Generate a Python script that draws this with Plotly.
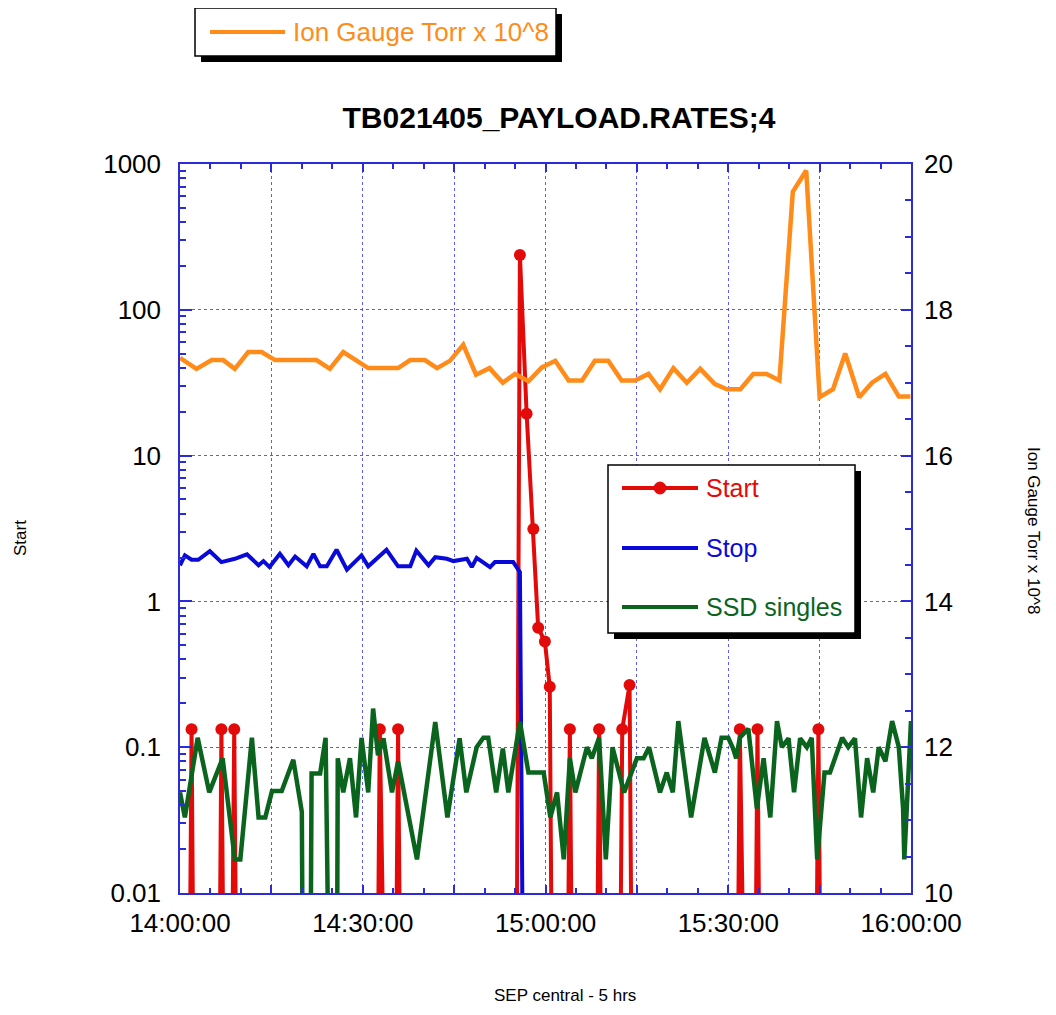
import pandas as pd
import plotly.graph_objects as go

# ---------------- data (minutes after 14:00:00) ----------------
BASE = "2005-02-14 14:00:00"

gauge_min = [0.0, 2.7, 5.2, 7.1, 9.0, 11.2, 13.4, 15.6, 22.4, 24.6, 26.8, 30.9, 35.8, 37.8,
             40.2, 42.2, 44.3, 46.5, 48.6, 50.8, 53.0, 55.0, 57.2, 59.4, 61.6, 63.8, 66.0,
             68.1, 70.3, 72.5, 74.7, 76.9, 78.8, 81.0, 83.2, 85.4, 87.8, 89.8, 92.0, 94.1,
             96.3, 98.4, 100.6, 102.8, 105.0, 107.2, 109.2, 111.5, 113.6, 115.8, 118.0, 119.9]
gauge_val = [17.34, 17.19, 17.31, 17.31, 17.19, 17.42, 17.42, 17.31, 17.31, 17.19, 17.42, 17.20,
             17.20, 17.31, 17.31, 17.20, 17.30, 17.52, 17.11, 17.20, 17.00, 17.12, 17.02, 17.21,
             17.30, 17.03, 17.03, 17.30, 17.30, 17.03, 17.03, 17.12, 16.91, 17.20, 17.00, 17.19,
             16.98, 16.91, 16.91, 17.12, 17.12, 17.03, 19.62, 19.91, 16.80, 16.91, 17.40, 16.80,
             17.00, 17.12, 16.81, 16.81]

start_min = [0.0, 1.0, 1.9, 2.8, 5.9, 6.8, 7.85, 8.9, 9.9, 31.8, 32.8, 33.8, 34.8, 35.8, 36.8,
             54.9, 55.8, 56.9, 58.0, 58.8, 59.9, 60.7, 61.6, 63.0, 64.0, 65.0, 67.8, 68.8, 69.8,
             71.6, 72.6, 73.8, 74.7, 90.9, 91.9, 92.9, 93.8, 94.8, 95.8, 103.8, 104.8, 105.8, 120.0]
start_val = [0, 0, 0.133, 0, 0, 0.133, 0, 0.133, 0, 0, 0.133, 0, 0, 0.133, 0,
             0, 238, 19.4, 3.14, 0.66, 0.53, 0.26, 0, 0, 0.133, 0, 0, 0.133, 0,
             0, 0.133, 0.267, 0, 0, 0.133, 0, 0, 0.133, 0, 0, 0.133, 0, 0]

stop_min = [0.0, 0.8, 1.9, 3.0, 4.9, 6.8, 9.0, 11.0, 12.9, 13.7, 14.7, 16.4, 17.8, 18.9, 20.8,
            21.9, 23.0, 24.1, 25.7, 27.4, 29.8, 30.9, 33.9, 35.8, 37.8, 38.8, 40.8, 41.9, 43.8,
            44.9, 47.1, 47.9, 48.7, 50.9, 51.7, 54.7, 55.8, 55.9, 56.9, 120.0]
stop_val = [1.77, 2.07, 1.93, 1.93, 2.21, 1.86, 1.96, 2.10, 1.77, 1.89, 1.72, 2.12, 1.77, 2.03,
            1.74, 2.12, 1.74, 1.74, 2.26, 1.65, 2.07, 1.74, 2.26, 1.74, 1.74, 2.23, 1.77, 2.01,
            1.96, 1.89, 1.96, 1.72, 1.99, 1.72, 1.86, 1.86, 1.59, 0.62, 0, 0]

ssd_min = [0.0, 0.8, 2.9, 4.8, 7.0, 9.0, 9.9, 11.8, 12.9, 14.0, 15.1, 16.7, 18.6, 20.0, 20.6,
           21.0, 21.6, 23.0, 23.9, 24.5, 25.5, 25.9, 26.8, 27.9, 28.9, 29.8, 30.9, 31.7, 32.5,
           33.4, 34.8, 35.8, 38.9, 41.9, 43.9, 45.9, 47.0, 48.7, 49.8, 50.6, 51.9, 53.0, 53.9,
           55.8, 57.2, 59.7, 60.8, 61.9, 63.0, 64.0, 64.9, 66.8, 67.6, 68.8, 69.9, 71.0, 72.9,
           75.0, 76.1, 77.0, 78.8, 79.9, 80.9, 81.8, 83.9, 86.1, 87.8, 88.9, 90.0, 90.8, 91.3,
           91.9, 93.3, 94.7, 95.8, 96.9, 98.0, 98.8, 99.9, 100.8, 101.8, 102.9, 103.7, 104.6,
           105.8, 106.7, 108.7, 109.7, 110.8, 111.8, 112.8, 113.8, 114.7, 115.8, 116.9, 118.0,
           118.7, 118.9, 119.6, 120.0]
ssd_val = [0.049, 0.033, 0.116, 0.049, 0.084, 0.017, 0.017, 0.116, 0.033, 0.033, 0.050, 0.050,
           0.082, 0.036, 0, 0, 0.066, 0.066, 0.116, 0, 0, 0.084, 0.049, 0.084, 0.033, 0.116,
           0.049, 0.184, 0.088, 0.115, 0.049, 0.080, 0.017, 0.149, 0.033, 0.115, 0.049, 0.100,
           0.116, 0.116, 0.049, 0.098, 0.049, 0.149, 0.067, 0.067, 0.033, 0.049, 0.017, 0.084,
           0.049, 0.100, 0.084, 0.116, 0.017, 0.100, 0.049, 0.084, 0.084, 0.100, 0.049, 0.067,
           0.049, 0.151, 0.033, 0.116, 0.067, 0.116, 0.116, 0.098, 0.084, 0.116, 0.134, 0.038,
           0.084, 0.033, 0.151, 0.100, 0.115, 0.049, 0.115, 0.100, 0.116, 0.017, 0.067, 0.067,
           0.116, 0.100, 0.115, 0.033, 0.084, 0.049, 0.100, 0.080, 0.151, 0.100, 0.038, 0.017,
           0.080, 0.151]

left_ticks = [0.01, 0.1, 1, 10, 100, 1000]
left_labels = ["0.01", "0.1", "1", "10", "100", "1000"]
right_ticks = [10, 12, 14, 16, 18, 20]
right_labels = ["10", "12", "14", "16", "18", "20"]
x_tick_minutes = [0, 15, 30, 45, 60, 75, 90, 105, 120]
x_tick_labels = ["14:00:00", "", "14:30:00", "", "15:00:00", "", "15:30:00", "", "16:00:00"]

# ---------------- helpers ----------------
base = pd.Timestamp(BASE)


def to_time(mins):
    return [(base + pd.to_timedelta(m, unit="m")).strftime("%Y-%m-%d %H:%M:%S.%f") for m in mins]


ZERO_FLOOR = 1e-6  # zero counts: drawn far below the log axis (line drops off the plot)


def floor0(vals):
    return [v if v > 0 else ZERO_FLOOR for v in vals]


ORANGE = "#ff8c1a"
RED = "#e30a0a"
BLUE = "#0a0ad8"
GREEN = "#0b641e"
AXIS = "#2b2bd9"
GRID = "rgba(50,50,245,0.8)"
FONT = "Liberation Sans, Arial, sans-serif"

OFF = 8                      # page body margin
W, H = 1040, 999
PLOT_L, PLOT_R, PLOT_T, PLOT_B = 180, 911, 164, 893   # screen pixels of plot area
L = PLOT_L - OFF
T = PLOT_T - OFF
R = W + OFF - PLOT_R
B = H + OFF - PLOT_B
PW, PH = PLOT_R - PLOT_L, PLOT_B - PLOT_T


def px(x):
    return (x - PLOT_L) / PW


def py(y):
    return (PLOT_B - y) / PH


fig = go.Figure()
fig.add_trace(go.Scatter(x=to_time(gauge_min), y=gauge_val, mode="lines", name="Ion Gauge Torr x 10^8",
                         line=dict(color=ORANGE, width=4.5), yaxis="y2", showlegend=False))
fig.add_trace(go.Scatter(x=to_time(start_min), y=floor0(start_val), mode="lines+markers", name="Start",
                         line=dict(color=RED, width=4), marker=dict(color=RED, size=12),
                         showlegend=False, cliponaxis=True))
fig.add_trace(go.Scatter(x=to_time(stop_min), y=floor0(stop_val), mode="lines", name="Stop",
                         line=dict(color=BLUE, width=4), showlegend=False))
fig.add_trace(go.Scatter(x=to_time(ssd_min), y=floor0(ssd_val), mode="lines", name="SSD singles",
                         line=dict(color=GREEN, width=4.5), showlegend=False))

tickfont = dict(family=FONT, size=26, color="black")

fig.update_layout(
    width=W, height=H,
    margin=dict(l=L, r=R, t=T, b=B),
    paper_bgcolor="white", plot_bgcolor="white",
    font=dict(family=FONT, color="black"),
    title=dict(text="<b>TB021405_PAYLOAD.RATES;4</b>", x=px(559), xref="paper", xanchor="center",
               y=1 - (117 - OFF) / H, yref="container", yanchor="middle",
               font=dict(family=FONT, size=30, color="black")),
    xaxis=dict(type="date", range=to_time([0, 120]),
               tickvals=to_time(x_tick_minutes), ticktext=x_tick_labels,
               tickfont=tickfont, ticks="inside", ticklen=8, tickcolor=AXIS, tickwidth=1.5,
               showline=True, linecolor=AXIS, linewidth=1.5, mirror="ticks",
               showgrid=True, gridcolor=GRID, griddash="dot", gridwidth=1,
               minor=dict(ticks="inside", ticklen=5, tickcolor=AXIS, dtick=5 * 60 * 1000, showgrid=False),
               zeroline=False, ticklabelstandoff=6),
    yaxis=dict(type="log", range=[-2, 3], tickvals=left_ticks, ticktext=left_labels,
               tickfont=tickfont, ticks="inside", ticklen=12, tickcolor=AXIS, tickwidth=1.5,
               showline=True, linecolor=AXIS, linewidth=1.5, mirror=False,
               showgrid=True, gridcolor=GRID, griddash="dot", gridwidth=1,
               minor=dict(ticks="inside", ticklen=6, tickcolor=AXIS, dtick="D1", showgrid=False),
               zeroline=False, ticklabelstandoff=12),
    yaxis2=dict(overlaying="y", side="right", range=[10, 20], tickvals=right_ticks, ticktext=right_labels,
                tickfont=tickfont, ticks="inside", ticklen=10, tickcolor=AXIS, tickwidth=1.5,
                showline=True, linecolor=AXIS, linewidth=1.5, showgrid=False, zeroline=False,
                minor=dict(ticks="inside", ticklen=6, tickcolor=AXIS, dtick=0.5, showgrid=False),
                ticklabelstandoff=6),
)

shapes = []
annots = []


def legend_box(x0, y0, x1, y1, off):
    shapes.append(dict(type="rect", xref="paper", yref="paper", x0=px(x0 + off), x1=px(x1 + off),
                       y0=py(y0 + off), y1=py(y1 + off), fillcolor="black", line=dict(width=0)))
    shapes.append(dict(type="rect", xref="paper", yref="paper", x0=px(x0), x1=px(x1),
                       y0=py(y0), y1=py(y1), fillcolor="white", line=dict(color="black", width=1.5)))


def legend_line(x0, x1, y, color):
    shapes.append(dict(type="line", xref="paper", yref="paper", x0=px(x0), x1=px(x1), y0=py(y), y1=py(y),
                       line=dict(color=color, width=4)))


def legend_text(x, y, text, color, size=25):
    annots.append(dict(text=text, xref="paper", yref="paper", x=px(x), y=py(y), xanchor="left",
                       yanchor="middle", showarrow=False,
                       font=dict(family=FONT, size=size, color=color)))


# top legend (Ion gauge)
legend_box(195, 8, 556, 56, 6)
legend_line(210, 285, 32, ORANGE)
legend_text(291, 32, "Ion Gauge Torr x 10^8", ORANGE, 26)

# in-plot legend
legend_box(608, 465, 855, 633, 6)
legend_line(622, 698, 488, RED)
shapes.append(dict(type="circle", xref="paper", yref="paper", xsizemode="pixel", ysizemode="pixel",
                   xanchor=px(660), yanchor=py(488), x0=-6, x1=6, y0=-6, y1=6,
                   fillcolor=RED, line=dict(color=RED, width=1)))
legend_text(704, 488, "Start", RED)
legend_text(704, 548, "Stop", BLUE)
legend_line(622, 698, 548, BLUE)
legend_line(622, 698, 607, GREEN)
legend_text(704, 607, "SSD singles", GREEN)

# axis titles
small = dict(family=FONT, size=17, color="black")
annots.append(dict(text="Start", xref="paper", yref="paper", x=px(20), y=py(538), textangle=-90,
                   showarrow=False, xanchor="center", yanchor="middle", font=small))
annots.append(dict(text="Ion Gauge Torr x 10^8", xref="paper", yref="paper", x=px(1034), y=py(530),
                   textangle=90, showarrow=False, xanchor="center", yanchor="middle", font=small))
annots.append(dict(text="SEP central - 5 hrs", xref="paper", yref="paper", x=px(565), y=py(995),
                   showarrow=False, xanchor="center", yanchor="middle", font=small))

fig.update_layout(shapes=shapes, annotations=annots)
fig.write_html("out.html")
